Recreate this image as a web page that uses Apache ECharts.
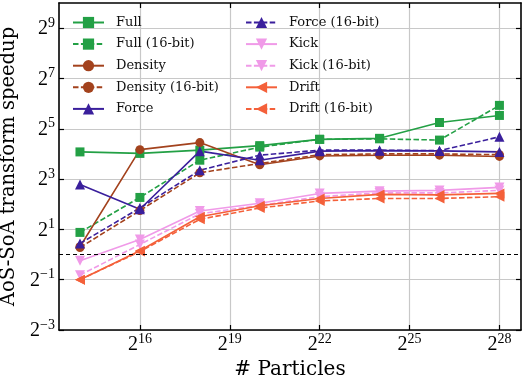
<!DOCTYPE html>
<html>
<head>
<meta charset="utf-8">
<script src="https://cdn.jsdelivr.net/npm/echarts@6/dist/echarts.min.js"></script>
<style>
  html, body { margin: 0; padding: 0; background: #fff; }
  #chart { width: 523px; height: 380px; }
</style>
</head>
<body>
<div id="chart"></div>
<script>
// x = log2(# particles), y = log2(speedup)
var particlesLog2 = [14, 16, 18, 20, 22, 24, 26, 28]

var full      = [4.08, 4.02, 4.15, 4.33, 4.58, 4.62, 5.25, 5.53]
var full16    = [0.88, 2.27, 3.75, 4.27, 4.58, 4.60, 4.55, 5.93]
var density   = [0.31, 4.17, 4.45, 3.57, 3.92, 3.95, 3.95, 3.90]
var density16 = [0.28, 1.75, 3.25, 3.62, 3.97, 4.00, 4.00, 3.97]
var force     = [2.78, 1.80, 4.11, 3.75, 4.11, 4.13, 4.12, 4.08]
var force16   = [0.44, 1.85, 3.35, 3.95, 4.15, 4.15, 4.13, 4.68]
var kick      = [-0.25, 0.60, 1.73, 2.04, 2.43, 2.52, 2.55, 2.67]
var kick16    = [-0.82, 0.40, 1.62, 1.95, 2.30, 2.45, 2.45, 2.55]
var drift     = [-1.00, 0.15, 1.50, 1.94, 2.23, 2.39, 2.37, 2.43]
var drift16   = [-1.00, 0.12, 1.40, 1.85, 2.13, 2.23, 2.23, 2.30]

var xTicks = [16, 19, 22, 25, 28]
var yTicks = [-3, -1, 1, 3, 5, 7, 9]

var names1 = ['Full', 'Full (16-bit)', 'Density', 'Density (16-bit)', 'Force']
var names2 = ['Force (16-bit)', 'Kick', 'Kick (16-bit)', 'Drift', 'Drift (16-bit)']

var GREEN = '#23a045'
var BROWN = '#a3421d'
var INDIGO = '#3a1f9c'
var PINK = '#f09ae8'
var ORANGE = '#f4603a'

var TRI_DOWN = 'path://M0,0 L10,0 L5,9 Z'
var TRI_LEFT = 'path://M0,5 L9,0 L9,10 Z'

function pts(arr) {
  return arr.map(function (v, i) { return [particlesLog2[i], v] })
}

function powLabel(v) {
  var s = String(v).replace('-', '\u2212')
  return '{b|2}{s|' + s + '}'
}

var richTicks = {
  b: { fontFamily: 'Liberation Serif', fontSize: 20, color: '#000', lineHeight: 22, verticalAlign: 'bottom' },
  s: { fontFamily: 'Liberation Serif', fontSize: 14, color: '#000', lineHeight: 16, verticalAlign: 'bottom', padding: [0, 0, 9, 0] },
}

function line(name, data, color, symbol, size, dashed) {
  return {
    name: name,
    type: 'line',
    data: pts(data),
    color: color,
    symbol: symbol,
    symbolSize: size,
    showSymbol: true,
    lineStyle: { width: 1.6, color: color, type: dashed ? [5.5, 2.4] : 'solid' },
    itemStyle: { color: color },
    emphasis: { disabled: true },
  }
}

var series = [
  line('Full', full, GREEN, 'rect', 9, false),
  line('Full (16-bit)', full16, GREEN, 'rect', 9, true),
  line('Density', density, BROWN, 'circle', 9, false),
  line('Density (16-bit)', density16, BROWN, 'circle', 9, true),
  line('Force', force, INDIGO, 'triangle', 10, false),
  line('Force (16-bit)', force16, INDIGO, 'triangle', 10, true),
  line('Kick', kick, PINK, TRI_DOWN, 10, false),
  line('Kick (16-bit)', kick16, PINK, TRI_DOWN, 10, true),
  line('Drift', drift, ORANGE, TRI_LEFT, 10, false),
  line('Drift (16-bit)', drift16, ORANGE, TRI_LEFT, 10, true),
]

// reference line at speedup = 1
series[0].markLine = {
  silent: true,
  symbol: 'none',
  label: { show: false },
  lineStyle: { color: '#000', width: 1, type: [4, 3] },
  data: [{ yAxis: 0 }],
}

var legendBase = {
  orient: 'vertical',
  itemWidth: 31,
  itemHeight: 14,
  itemGap: 8.6,
  padding: 0,
  textStyle: { fontFamily: 'DejaVu Serif', fontSize: 13, color: '#111', padding: [0, 0, 0, 7] },
  inactiveColor: '#ccc',
}

var option = {
  animation: false,
  backgroundColor: '#fff',
  grid: { left: 59, right: 2, top: 3, bottom: 50, outerBoundsMode: 'none', containLabel: false },
  legend: [
    Object.assign({}, legendBase, { left: 72, top: 16, data: names1 }),
    Object.assign({}, legendBase, { left: 245, top: 16, data: names2 }),
  ],
  xAxis: [
    {
      type: 'value',
      min: 13.3,
      max: 28.72,
      name: '# Particles',
      nameLocation: 'middle',
      nameGap: 26,
      nameTextStyle: { fontFamily: 'DejaVu Serif', fontSize: 20, color: '#000' },
      axisLine: { show: true, onZero: false, lineStyle: { color: '#000', width: 1.6 } },
      axisTick: { show: true, inside: true, length: 5, customValues: xTicks, lineStyle: { color: '#000', width: 1.2 } },
      axisLabel: { customValues: xTicks, margin: 3, formatter: powLabel, rich: richTicks },
      splitLine: { show: true, lineStyle: { color: '#c8c8c8', width: 1.2 } },
    },
    {
      type: 'value',
      position: 'top',
      min: 13.3,
      max: 28.72,
      axisLine: { show: true, onZero: false, lineStyle: { color: '#000', width: 1.6 } },
      axisTick: { show: true, inside: true, length: 5, customValues: xTicks, lineStyle: { color: '#000', width: 1.2 } },
      axisLabel: { show: false, customValues: xTicks },
      splitLine: { show: false },
    },
  ],
  yAxis: [
    {
      type: 'value',
      min: -3,
      max: 10,
      name: 'AoS-SoA transform speedup',
      nameLocation: 'middle',
      nameGap: 29,
      nameTextStyle: { fontFamily: 'DejaVu Serif', fontSize: 19.5, color: '#000' },
      axisLine: { show: true, onZero: false, lineStyle: { color: '#000', width: 1.6 } },
      axisTick: { show: true, inside: true, length: 5, customValues: yTicks, lineStyle: { color: '#000', width: 1.2 } },
      axisLabel: { customValues: yTicks, margin: 4, formatter: powLabel, rich: richTicks },
      splitLine: { show: true, lineStyle: { color: '#c8c8c8', width: 1.2 } },
    },
    {
      type: 'value',
      position: 'right',
      min: -3,
      max: 10,
      axisLine: { show: true, onZero: false, lineStyle: { color: '#000', width: 1.6 } },
      axisTick: { show: true, inside: true, length: 5, customValues: yTicks, lineStyle: { color: '#000', width: 1.2 } },
      axisLabel: { show: false, customValues: yTicks },
      splitLine: { show: false },
    },
  ],
  series: series,
}

var chart = echarts.init(document.getElementById('chart'), null, { renderer: 'canvas' })
chart.setOption(option)
</script>
</body>
</html>
